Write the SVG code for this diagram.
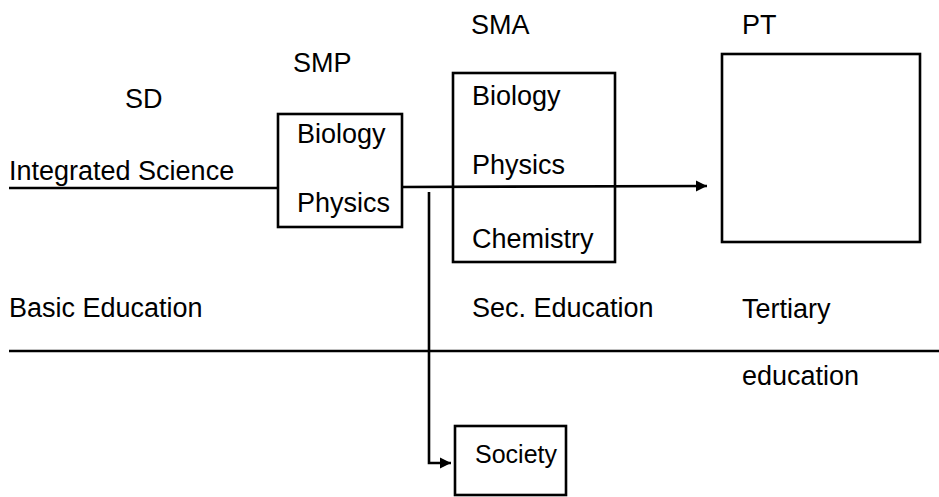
<svg xmlns="http://www.w3.org/2000/svg" width="939" height="497" viewBox="0 0 939 497">
  <style>
    .lbl { font-family: "Liberation Sans", Arial, sans-serif; font-size: 27px; fill: #000; }
    .small { font-size: 25px; }
    .box { fill: none; stroke: #000; stroke-width: 2.6; }
    .wire { fill: none; stroke: #000; stroke-width: 2.6; }
  </style>
  <defs>
    <marker id="head" viewBox="0 0 10 10" refX="10" refY="5" markerWidth="11" markerHeight="12" markerUnits="userSpaceOnUse" orient="auto">
      <path d="M0,0 L10,5 L0,10 Z" fill="#000"/>
    </marker>
  </defs>
  <rect width="939" height="497" fill="#fff"/>

  <!-- level headings -->
  <g id="headings">
    <text class="lbl" x="125" y="108">SD</text>
    <text class="lbl" x="293" y="72">SMP</text>
    <text class="lbl" x="471" y="34">SMA</text>
    <text class="lbl" x="742" y="34">PT</text>
  </g>

  <!-- stage divider and stage names -->
  <g id="stages">
    <line class="wire" x1="9" y1="351" x2="939" y2="351"/>
    <text class="lbl" x="9" y="317">Basic Education</text>
    <text class="lbl" x="472" y="317">Sec. Education</text>
    <text class="lbl" x="742" y="318">Tertiary</text>
    <text class="lbl" x="742" y="385">education</text>
  </g>

  <g id="integrated-science">
    <text class="lbl" x="9" y="180">Integrated Science</text>
  </g>

  <g id="smp">
    <rect class="box" x="278" y="114" width="124" height="113"/>
    <text class="lbl" x="297" y="143">Biology</text>
    <text class="lbl" x="297" y="212">Physics</text>
  </g>

  <g id="sma">
    <rect class="box" x="453" y="73" width="162" height="189"/>
    <text class="lbl" x="472" y="105">Biology</text>
    <text class="lbl" x="472" y="174">Physics</text>
    <text class="lbl" x="472" y="248">Chemistry</text>
  </g>

  <g id="pt">
    <rect class="box" x="722" y="54" width="198" height="188"/>
  </g>

  <g id="society">
    <rect class="box" x="455" y="426" width="111" height="69"/>
    <text class="lbl small" x="475" y="463">Society</text>
  </g>

  <!-- connectors -->
  <g id="connectors">
    <line class="wire" x1="9" y1="188" x2="278" y2="188"/>
    <line class="wire" x1="402" y1="187" x2="707" y2="186" marker-end="url(#head)"/>
    <polyline class="wire" points="429,192 429,463 451,463" marker-end="url(#head)"/>
  </g>
</svg>
